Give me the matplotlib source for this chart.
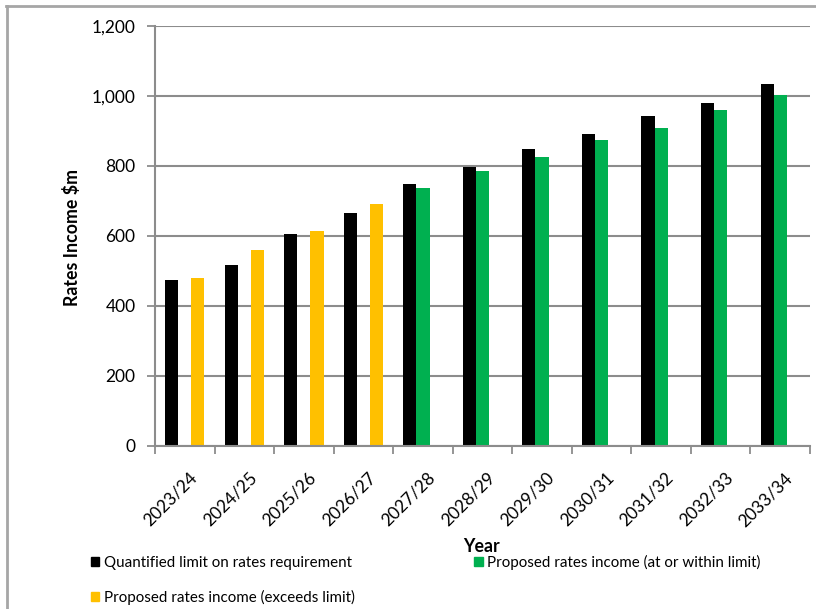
import numpy as np
import matplotlib.pyplot as plt
from matplotlib.patches import Patch
from matplotlib.lines import Line2D
from matplotlib.ticker import FuncFormatter
from matplotlib.transforms import ScaledTranslation

plt.rcParams['font.family'] = ['Lato', 'DejaVu Sans']

years = ['2023/24', '2024/25', '2025/26', '2026/27', '2027/28', '2028/29',
         '2029/30', '2030/31', '2031/32', '2032/33', '2033/34']
limit = [474, 517, 605, 666, 748, 798, 848, 892, 943, 981, 1035]
within = [np.nan, np.nan, np.nan, np.nan, 738, 786, 826, 874, 909, 959, 1003]
exceeds = [479, 560, 615, 692, np.nan, np.nan, np.nan, np.nan, np.nan, np.nan, np.nan]

names = ['Quantified limit on rates requirement',
         'Proposed rates income (at or within limit)',
         'Proposed rates income (exceeds limit)']
colours = ['#000000', '#00B050', '#FFC000']

GRID = '#8c8c8c'

fig = plt.figure(figsize=(8.16, 6.09), dpi=100)
ax = fig.add_axes([155 / 816, 1 - 446 / 609, (810 - 155) / 816, 420 / 609])

x = np.arange(len(years))
w = 0.22
for k, (vals, col) in enumerate(zip([limit, within, exceeds], colours)):
    ax.bar(x + (k - 1) * w, np.array(vals, dtype=float), width=w, color=col, zorder=3)

ax.set_xlim(-0.5, len(years) - 0.5)
ax.set_ylim(0, 1200)
ax.set_yticks(range(0, 1201, 200))
ax.yaxis.set_major_formatter(FuncFormatter(lambda v, p: f'{int(v):,}'))
ax.grid(axis='y', color=GRID, lw=1.5, zorder=0)

ax.set_xticks(x)
ax.set_xticklabels(years, rotation=45, ha='right', va='top', rotation_mode='anchor')
ax.set_xticks(np.arange(-0.5, len(years)), minor=True)
ax.tick_params(axis='x', which='major', length=0, pad=17, labelsize=12.5)
ax.tick_params(axis='x', which='minor', length=5.5, color=GRID, width=1.3)
ax.tick_params(axis='y', length=5.5, color=GRID, width=1.3, pad=8.5, labelsize=12.5)
for lbl in ax.get_xticklabels():
    lbl.set_transform(lbl.get_transform() + ScaledTranslation(3 / 72, 0, fig.dpi_scale_trans))

for s in ['top', 'right']:
    ax.spines[s].set_visible(False)
for s in ['left', 'bottom']:
    ax.spines[s].set_color(GRID)
    ax.spines[s].set_linewidth(1.5)
    ax.spines[s].set_zorder(4)

fig.text(71.5 / 816, 1 - 237 / 609, 'Rates Income $m', rotation=90, ha='center', va='center',
         fontsize=12.8, fontweight='bold')
fig.text(482 / 816, 1 - 546 / 609, 'Year', ha='center', va='center',
         fontsize=12.8, fontweight='bold')

handles = [Patch(color=colours[0], label=names[0]),
           Patch(color=colours[2], label=names[2]),
           Patch(color=colours[1], label=names[1])]
fig.legend(handles=handles, ncol=2, loc='upper left', bbox_to_anchor=(91 / 816, 1 - 555 / 609),
           frameon=False, fontsize=10.9, handlelength=0.55, handleheight=0.55, handletextpad=0.3,
           columnspacing=7.9, labelspacing=1.3, borderpad=0, borderaxespad=0)

# chart area border (top and left edges visible)
fig.add_artist(Line2D([6 / 816, 1], [1 - 6 / 609, 1 - 6 / 609], color='#a6a6a6', lw=2))
fig.add_artist(Line2D([6.5 / 816, 6.5 / 816], [0, 1 - 6 / 609], color='#a6a6a6', lw=2))

fig.savefig('out.png', dpi=100)
